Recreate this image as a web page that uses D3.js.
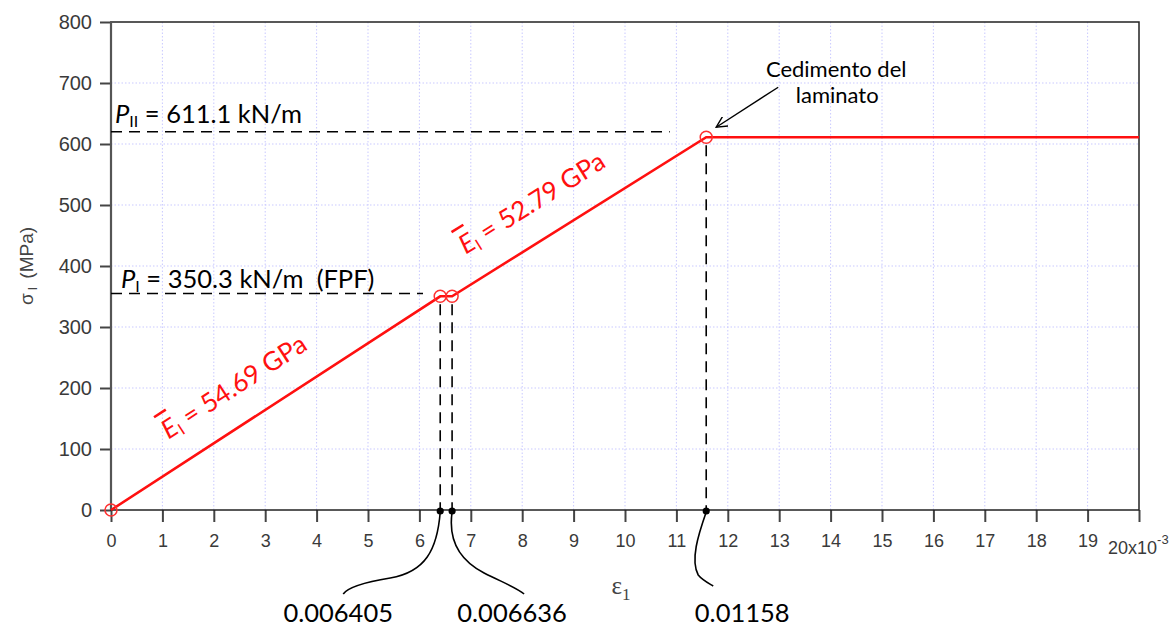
<!DOCTYPE html>
<html>
<head>
<meta charset="utf-8">
<script src="https://cdn.jsdelivr.net/npm/d3@7"></script>
<style>
  body { margin: 0; background: #fff; }
  svg { display: block; }
</style>
</head>
<body>
<svg id="chart" width="1176" height="627"></svg>
<script>
// stress-strain curve of the laminate (strain in 1e-3, stress in MPa)
var strain = [0, 6.405, 6.636, 11.58, 20];
var stress = [0, 350.3, 350.3, 611.1, 611.1];
// points marked with circles (first four)
var markIdx = [0, 1, 2, 3];

var xTicks = [0, 1, 2, 3, 4, 5, 6, 7, 8, 9, 10, 11, 12, 13, 14, 15, 16, 17, 18, 19, 20];
var yTicks = [0, 100, 200, 300, 400, 500, 600, 700, 800];

// dashed level lines: [stress level, strain where dash stops]
var levelLines = [[355, 6.07], [620, 10.87]];
// strain values dropped to the axis, with their labels
var dropStrain = [6.405, 6.636, 11.58];
var dropLabels = ["0.006405", "0.006636", "0.01158"];

var svg = d3.select("#chart");
var margin = {left: 111, top: 22, right: 37, bottom: 117};
var width = 1176 - margin.left - margin.right,
    height = 627 - margin.top - margin.bottom;

var xScale = d3.scaleLinear().domain([0, 20]).range([margin.left, margin.left + width]);
var yScale = d3.scaleLinear().domain([0, 800]).range([margin.top + height, margin.top]);

var tickFont = "'Liberation Sans', Arial, sans-serif";
var noteFont = "Lato, 'Open Sans', sans-serif";

// grid
var grid = svg.append("g");
grid.selectAll("line.vx").data(xTicks.slice(1, -1)).enter().append("line")
    .attr("x1", function(d) { return xScale(d); })
    .attr("x2", function(d) { return xScale(d); })
    .attr("y1", yScale(800)).attr("y2", yScale(0))
    .attr("stroke", "#c9c9ff").attr("stroke-width", 1).attr("stroke-dasharray", "1.5,2");
grid.selectAll("line.hy").data(yTicks.slice(1, -1)).enter().append("line")
    .attr("y1", function(d) { return yScale(d); })
    .attr("y2", function(d) { return yScale(d); })
    .attr("x1", xScale(0)).attr("x2", xScale(20))
    .attr("stroke", "#c9c9ff").attr("stroke-width", 1).attr("stroke-dasharray", "1.5,2");

// axes
var xAxis = d3.axisBottom(xScale).tickValues(xTicks).tickSize(12).tickSizeOuter(0).tickPadding(12)
    .tickFormat(function(d) { return d === 20 ? "" : d; });
var yAxis = d3.axisLeft(yScale).tickValues(yTicks).tickSize(11).tickSizeOuter(0).tickPadding(8);

var gx = svg.append("g").attr("transform", "translate(0," + yScale(0) + ")").call(xAxis);
var gy = svg.append("g").attr("transform", "translate(" + xScale(0) + ",0)").call(yAxis);
[gx, gy].forEach(function(g) {
    g.select(".domain").remove();
    g.selectAll(".tick line").attr("stroke", "#444").attr("stroke-width", 2);
    g.selectAll(".tick text").attr("fill", "#3a3a3a").style("font-family", tickFont);
});
gx.selectAll(".tick text").style("font-size", "18px");
gy.selectAll(".tick text").style("font-size", "20px");

// frame
svg.append("rect")
    .attr("x", xScale(0)).attr("y", yScale(800))
    .attr("width", xScale(20) - xScale(0)).attr("height", yScale(0) - yScale(800))
    .attr("fill", "none").attr("stroke", "#222").attr("stroke-width", 1.5);
svg.append("line")
    .attr("x1", xScale(0)).attr("x2", xScale(0)).attr("y1", yScale(800)).attr("y2", yScale(0))
    .attr("stroke", "#555").attr("stroke-width", 2.2);

// x scale multiplier
var mult = svg.append("text")
    .attr("x", xScale(20) - 31).attr("y", yScale(0) + 44)
    .attr("fill", "#3a3a3a").style("font-family", tickFont).style("font-size", "18px");
mult.append("tspan").text("20x10");
mult.append("tspan").attr("dy", -10).style("font-size", "13px").text("-3");

// axis titles
var yt = svg.append("text")
    .attr("transform", "translate(33," + yScale(400) + ") rotate(-90)")
    .attr("text-anchor", "middle").attr("fill", "#444")
    .style("font-family", tickFont).style("font-size", "19px");
yt.append("tspan").text("σ");
yt.append("tspan").attr("dy", 4).attr("dx", 3).style("font-size", "12px").text("I");
yt.append("tspan").attr("dy", -4).attr("dx", 3).text(" (MPa)");

var xt = svg.append("text")
    .attr("x", xScale(10) - 4).attr("y", 594)
    .attr("text-anchor", "middle").attr("fill", "#444")
    .style("font-family", "'Liberation Serif', 'DejaVu Serif', serif").style("font-size", "25px");
xt.append("tspan").text("ε");
xt.append("tspan").attr("dy", 6).style("font-size", "17px").text("1");

// dashed level lines
svg.selectAll("line.level").data(levelLines).enter().append("line")
    .attr("x1", xScale(0)).attr("x2", function(d) { return xScale(d[1]); })
    .attr("y1", function(d) { return yScale(d[0]); })
    .attr("y2", function(d) { return yScale(d[0]); })
    .attr("stroke", "#000").attr("stroke-width", 1.6).attr("stroke-dasharray", "11,7");

// dashed drops to the x axis
var dropStress = [350.3, 350.3, 611.1];
svg.selectAll("line.drop").data(dropStrain).enter().append("line")
    .attr("x1", function(d) { return xScale(d); })
    .attr("x2", function(d) { return xScale(d); })
    .attr("y1", function(d, i) { return yScale(dropStress[i]) + 8; })
    .attr("y2", yScale(0))
    .attr("stroke", "#000").attr("stroke-width", 1.6).attr("stroke-dasharray", "11,7");

// red curve
var pts = strain.map(function(s, i) { return [s, stress[i]]; });
var line = d3.line().x(function(d) { return xScale(d[0]); }).y(function(d) { return yScale(d[1]); });
svg.append("path").datum(pts).attr("d", line)
    .attr("fill", "none").attr("stroke", "#ff1010").attr("stroke-width", 2.6);
svg.selectAll("circle.mark").data(markIdx).enter().append("circle")
    .attr("cx", function(i) { return xScale(strain[i]); })
    .attr("cy", function(i) { return yScale(stress[i]); })
    .attr("r", 6).attr("fill", "none").attr("stroke", "#ff3030").attr("stroke-width", 1.5);

// black dots on the axis
svg.selectAll("circle.dot").data(dropStrain).enter().append("circle")
    .attr("cx", function(d) { return xScale(d); })
    .attr("cy", yScale(0) + 1).attr("r", 3.6).attr("fill", "#000");

// curved leaders from the dots to the labels (offsets relative to the dot)
var leaders = [
    [[-3, 38], [-15, 60], [-50, 66], [-80, 71], [-93, 76], [-97, 82]],
    [[-4, 28], [7, 48], [32, 61], [52, 71], [65, 76], [72, 82]],
    [[-8, 23], [-16, 48], [-8, 63], [-4, 68], [2, 71], [7, 74]]
];
var labelDx = [-102, 60, 36];
dropStrain.forEach(function(s, i) {
    var sx = xScale(s), sy = yScale(0) + 2;
    var c = leaders[i].map(function(p) { return (sx + p[0]) + "," + (sy + p[1]); });
    svg.append("path")
        .attr("d", "M" + sx + "," + sy + " C" + c[0] + " " + c[1] + " " + c[2] + " C" + c[3] + " " + c[4] + " " + c[5])
        .attr("fill", "none").attr("stroke", "#000").attr("stroke-width", 1.6);
    svg.append("text")
        .attr("x", sx + labelDx[i]).attr("y", 622)
        .attr("text-anchor", "middle").attr("fill", "#000")
        .style("font-family", noteFont).style("font-size", "25.5px")
        .text(dropLabels[i]);
});

// P labels
function pLabel(sub, rest, x, yv) {
    var t = svg.append("text").attr("x", x).attr("y", yv)
        .attr("fill", "#000").style("font-family", noteFont).style("font-size", "25.5px");
    t.append("tspan").style("font-style", "italic").text("P");
    t.append("tspan").attr("dy", 4).style("font-size", "16px").text(sub);
    t.append("tspan").attr("dy", -4).text(rest);
}
pLabel("II", " = 611.1 kN/m", xScale(0) + 4, yScale(620) - 9);
pLabel("I", " = 350.3 kN/m\u00a0\u00a0(FPF)", xScale(0) + 10, yScale(355) - 5);

// modulus labels along the curve
function eLabel(text, s, seg) {
    var a = seg[0], b = seg[1];
    var ang = Math.atan2(yScale(stress[b]) - yScale(stress[a]), xScale(strain[b]) - xScale(strain[a])) * 180 / Math.PI;
    var frac = (s - strain[a]) / (strain[b] - strain[a]);
    var yl = yScale(stress[a] + frac * (stress[b] - stress[a]));
    var t = svg.append("text")
        .attr("transform", "translate(" + xScale(s) + "," + (yl - 33) + ") rotate(" + ang + ")")
        .attr("fill", "#ff1010").style("font-family", noteFont).style("font-size", "26px");
    t.append("tspan").style("font-style", "italic").style("text-decoration", "overline").text("E");
    t.append("tspan").attr("dy", 4).style("font-size", "16px").text("I");
    t.append("tspan").attr("dy", -4).text(text);
}
eLabel(" = 54.69 GPa", 1.12, [0, 1]);
eLabel(" = 52.79 GPa", 6.9, [2, 3]);

// failure note with arrow
svg.append("defs").append("marker")
    .attr("id", "arr").attr("viewBox", "0 -6 12 12").attr("refX", 11).attr("refY", 0)
    .attr("markerWidth", 12).attr("markerHeight", 12).attr("markerUnits", "userSpaceOnUse")
    .attr("orient", "auto")
    .append("path").attr("d", "M0,-5.5 L11,0 L0,5.5").attr("fill", "none").attr("stroke", "#000").attr("stroke-width", 1.4);
var fx = xScale(11.58), fy = yScale(611.1);
svg.append("line")
    .attr("x1", fx + 72).attr("y1", fy - 50).attr("x2", fx + 10).attr("y2", fy - 10)
    .attr("stroke", "#000").attr("stroke-width", 1.4).attr("marker-end", "url(#arr)");
var note = svg.append("text").attr("text-anchor", "middle")
    .attr("fill", "#000").style("font-family", noteFont).style("font-size", "22px");
note.append("tspan").attr("x", fx + 130).attr("y", fy - 60).text("Cedimento del");
note.append("tspan").attr("x", fx + 131).attr("y", fy - 34).text("laminato");
</script>
</body>
</html>
